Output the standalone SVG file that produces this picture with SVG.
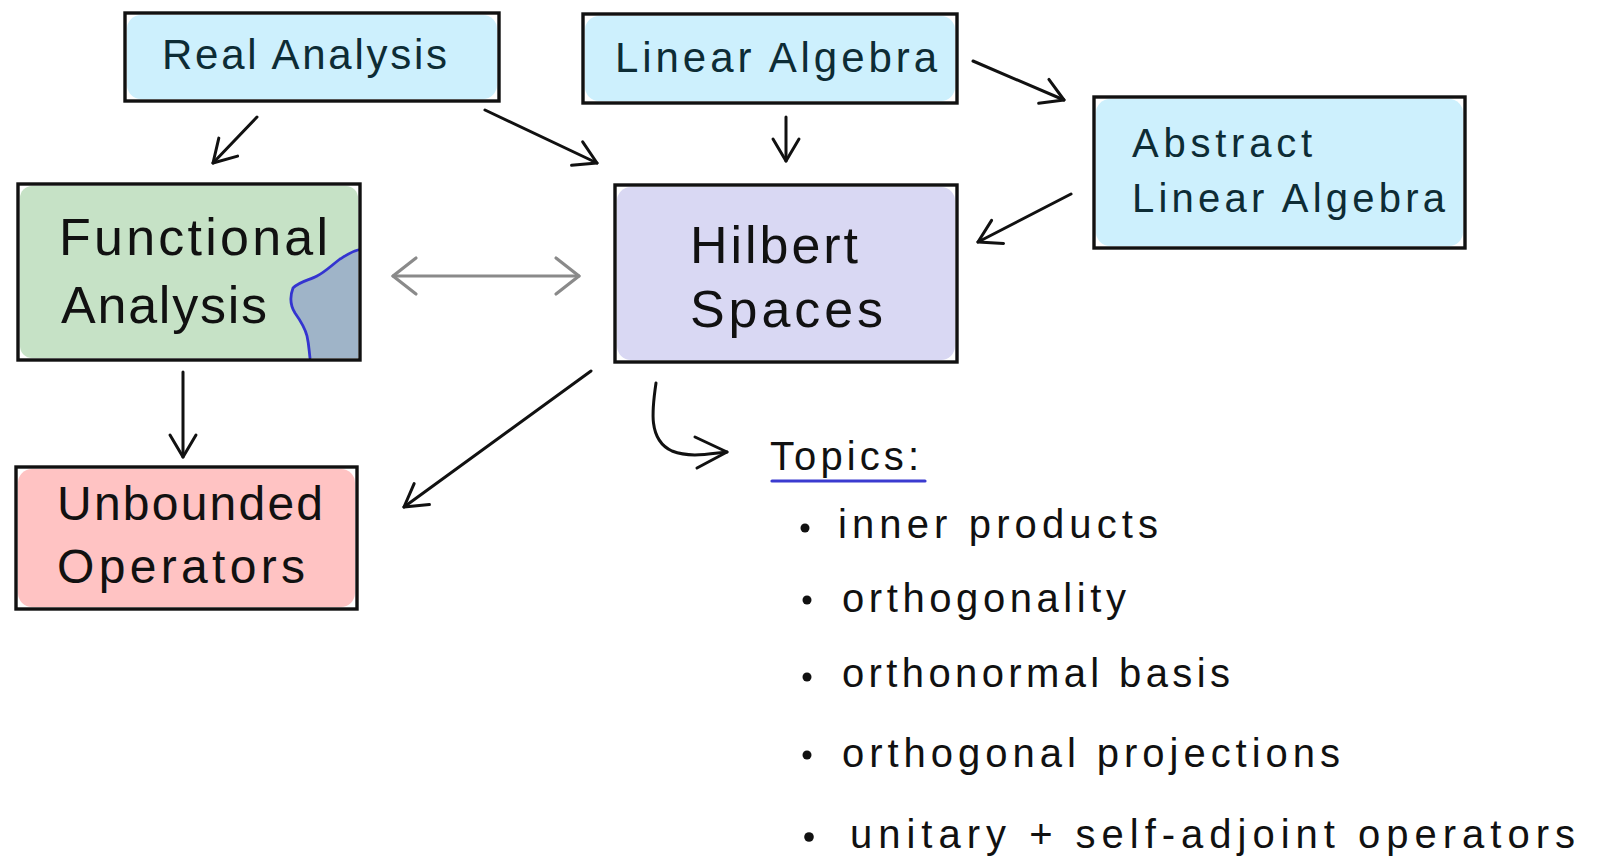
<svg xmlns="http://www.w3.org/2000/svg" width="1604" height="859" viewBox="0 0 1604 859">
<defs>
<style>
.box{fill:none;stroke:#111;stroke-width:3.4}
.blue{fill:#cdf0fd}
.green{fill:#c6e2c6}
.purple{fill:#d9d8f3}
.pink{fill:#ffc3c3}
.tb{font-family:"Liberation Sans",Arial,sans-serif;fill:#0d2c35}
.tk{font-family:"Liberation Sans",Arial,sans-serif;fill:#111}
.conn{fill:none;stroke:#111;stroke-width:3;stroke-linecap:round;stroke-linejoin:round}
.gray{fill:none;stroke:#8a8a8a;stroke-width:3.2;stroke-linecap:round}
</style>
<marker id="ah" markerUnits="userSpaceOnUse" viewBox="-30 -20 35 40" refX="0" refY="0" markerWidth="35" markerHeight="40" orient="auto" overflow="visible">
<path d="M-22 -13 L0 0 L-22 13" fill="none" stroke="#111" stroke-width="3" stroke-linecap="round" stroke-linejoin="round"/>
</marker>
<marker id="ahg" markerUnits="userSpaceOnUse" viewBox="-30 -20 35 40" refX="0" refY="0" markerWidth="35" markerHeight="40" orient="auto-start-reverse" overflow="visible">
<path d="M-23 -18 L0 0 L-23 18" fill="none" stroke="#8a8a8a" stroke-width="3.2" stroke-linecap="round" stroke-linejoin="round"/>
</marker>
</defs>
<rect width="1604" height="859" fill="#fff"/>

<g id="real-analysis">
<rect class="blue" x="127" y="15" width="370" height="84" rx="14"/>
<rect class="box" x="125" y="13" width="374" height="88"/>
<text class="tb" x="162" y="69" font-size="42" textLength="285" lengthAdjust="spacing">Real Analysis</text>
</g>

<g id="linear-algebra">
<rect class="blue" x="585" y="16" width="370" height="85" rx="14"/>
<rect class="box" x="583" y="14" width="374" height="89"/>
<text class="tb" x="615" y="72" font-size="42" textLength="322" lengthAdjust="spacing">Linear Algebra</text>
</g>

<g id="abstract-linear-algebra">
<rect class="blue" x="1096" y="99" width="367" height="147" rx="14"/>
<rect class="box" x="1094" y="97" width="371" height="151"/>
<text class="tb" x="1132" y="157" font-size="40" textLength="180" lengthAdjust="spacing">Abstract</text>
<text class="tb" x="1132" y="212" font-size="40" textLength="313" lengthAdjust="spacing">Linear Algebra</text>
</g>

<g id="functional-analysis">
<rect class="green" x="20" y="186" width="338" height="172" rx="12"/>
<path d="M358,250 C350,252 345,256 340,259 C332,265 325,272 317,276 C310,280 300,281 293,288 C290,296 290,305 295,313 C300,320 305,328 307,336 C309,345 309,350 310,358 L358,358 Z" fill="#9fb4c8"/>
<path d="M358,250 C350,252 345,256 340,259 C332,265 325,272 317,276 C310,280 300,281 293,288 C290,296 290,305 295,313 C300,320 305,328 307,336 C309,345 309,350 310,358" fill="none" stroke="#3434d0" stroke-width="2.8" stroke-linecap="round"/>
<rect class="box" x="18" y="184" width="342" height="176"/>
<text class="tk" x="59" y="255" font-size="52" textLength="269" lengthAdjust="spacing">Functional</text>
<text class="tk" x="61" y="323" font-size="52" textLength="206" lengthAdjust="spacing">Analysis</text>
</g>

<g id="hilbert-spaces">
<rect class="purple" x="617" y="187" width="338" height="173" rx="14"/>
<rect class="box" x="615" y="185" width="342" height="177"/>
<text class="tk" x="690" y="263" font-size="52" textLength="168" lengthAdjust="spacing">Hilbert</text>
<text class="tk" x="690" y="327" font-size="52" textLength="193" lengthAdjust="spacing">Spaces</text>
</g>

<g id="unbounded-operators">
<rect class="pink" x="18" y="469" width="337" height="138" rx="14"/>
<rect class="box" x="16" y="467" width="341" height="142"/>
<text class="tk" x="57" y="520" font-size="48" textLength="266" lengthAdjust="spacing">Unbounded</text>
<text class="tk" x="57" y="583" font-size="48" textLength="248" lengthAdjust="spacing">Operators</text>
</g>

<g id="topics">
<text class="tk" x="770" y="470" font-size="40" textLength="149" lengthAdjust="spacing">Topics:</text>
<line x1="772" y1="481" x2="925" y2="481" stroke="#3b3bd0" stroke-width="3.2" stroke-linecap="round"/>
<circle cx="805" cy="528" r="4.5" fill="#111"/>
<text class="tk" x="838" y="538" font-size="40" textLength="320" lengthAdjust="spacing">inner products</text>
<circle cx="807" cy="600" r="4.5" fill="#111"/>
<text class="tk" x="842" y="612" font-size="40" textLength="284" lengthAdjust="spacing">orthogonality</text>
<circle cx="807" cy="677" r="4.5" fill="#111"/>
<text class="tk" x="842" y="687" font-size="40" textLength="388" lengthAdjust="spacing">orthonormal basis</text>
<circle cx="807" cy="755" r="4.5" fill="#111"/>
<text class="tk" x="842" y="767" font-size="40" textLength="498" lengthAdjust="spacing">orthogonal projections</text>
<circle cx="809" cy="837" r="4.8" fill="#111"/>
<text class="tk" x="850" y="848" font-size="40" textLength="725" lengthAdjust="spacing">unitary + self-adjoint operators</text>
</g>

<g id="connectors">
<line class="conn" x1="257" y1="117" x2="213" y2="163" marker-end="url(#ah)"/>
<line class="conn" x1="485" y1="110" x2="597" y2="163" marker-end="url(#ah)"/>
<line class="conn" x1="786" y1="117" x2="786" y2="161" marker-end="url(#ah)"/>
<line class="conn" x1="973" y1="61" x2="1064" y2="100" marker-end="url(#ah)"/>
<line class="conn" x1="1071" y1="194" x2="978" y2="242" marker-end="url(#ah)"/>
<line class="gray" x1="393" y1="276" x2="579" y2="276" marker-start="url(#ahg)" marker-end="url(#ahg)"/>
<line class="conn" x1="183" y1="372" x2="183" y2="457" marker-end="url(#ah)"/>
<line class="conn" x1="591" y1="371" x2="404" y2="507" marker-end="url(#ah)"/>
<path class="conn" d="M656,383 C652,410 648,440 672,451 C690,458 708,454 727,452"/>
<path class="conn" d="M695,437 L727,452 L697,468"/>
</g>
</svg>
